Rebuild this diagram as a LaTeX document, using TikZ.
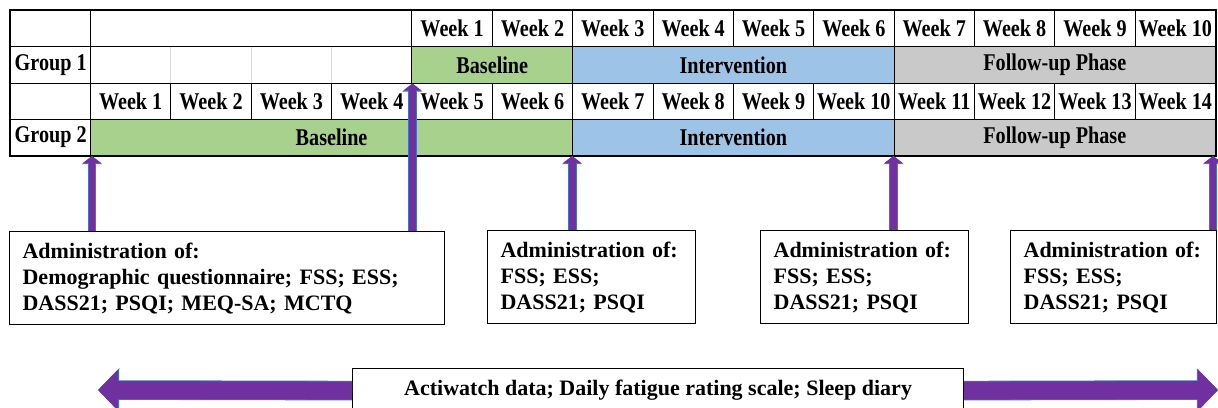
\documentclass[tikz,border=0pt]{standalone}
\usepackage{fontspec}
\setmainfont{Liberation Serif}
\newfontfamily\narrowfont[FakeStretch=0.84]{Liberation Serif}
\usepackage{xcolor}
\usepackage{tikz}
\usetikzlibrary{arrows.meta}

\definecolor{basegreen}{HTML}{A9D18E}
\definecolor{intblue}{HTML}{9DC3E6}
\definecolor{folgray}{HTML}{C9C9C9}
\definecolor{arrpurple}{HTML}{7030A0}
\definecolor{arrblue}{HTML}{4472C4}

\tikzset{
  cell/.style={draw, line width=0.5pt, inner sep=0pt, anchor=north west,
    minimum width=40.18pt, minimum height=18.125pt,
    font=\narrowfont\bfseries\fontsize{12}{14}\selectfont},
  admbox/.style={draw, line width=0.6pt, anchor=north west, align=left,
    inner xsep=6.5pt, inner ysep=0pt, minimum height=46.5pt,
    font=\bfseries\fontsize{11}{13}\selectfont},
  uparrow/.style={draw=arrpurple, line width=3.4pt, -{Triangle[length=3.4pt,width=8.6pt]},
    preaction={draw=arrblue, line width=4.4pt, -{Triangle[length=4pt,width=9.8pt]}}},
  bigarrow/.style={draw=arrpurple, line width=9pt, -{Triangle[length=10pt,width=20pt]},
    preaction={draw=arrblue, line width=9.8pt, -{Triangle[length=10.6pt,width=21.2pt]}}}
}

\begin{document}
\begin{tikzpicture}[x=0.5pt, y=-0.5pt]
\clip (0,0) rectangle (1218,407);

% empty cells of group 1 before the baseline
\node[cell, draw=gray!30] (e1) at (90,46.25) {};
\node[cell, draw=gray!30] (e2) at (170.36,46.25) {};
\node[cell, draw=gray!30] (e3) at (250.71,46.25) {};
\node[cell, draw=gray!30] (e4) at (331.07,46.25) {};

% row 1: weeks of group 1
\node[cell] (blank1) at (10,10) {};
\node[cell, minimum width=4*40.18pt] (blank2) at (90,10) {};
\node[cell] (ta1) at (411.43,10) {Week 1};
\node[cell] (ta2) at (491.79,10) {Week 2};
\node[cell] (ta3) at (572.14,10) {Week 3};
\node[cell] (ta4) at (652.5,10) {Week 4};
\node[cell] (ta5) at (732.86,10) {Week 5};
\node[cell] (ta6) at (813.21,10) {Week 6};
\node[cell] (ta7) at (893.57,10) {Week 7};
\node[cell] (ta8) at (973.93,10) {Week 8};
\node[cell] (ta9) at (1054.29,10) {Week 9};
\node[cell] (ta10) at (1134.64,10) {Week 10};

% row 2: phases of group 1
\node[cell] (g1) at (10,46.25) {Group 1};
\node[cell, fill=basegreen, minimum width=2*40.18pt] (g1base) at (411.43,46.25) {Baseline};
\node[cell, fill=intblue, minimum width=4*40.18pt] (g1int) at (572.14,46.25) {Intervention};
\node[cell, fill=folgray, minimum width=4*40.18pt] (g1fol) at (893.57,46.25) {Follow-up Phase};

% row 3: weeks of group 2
\node[cell] (blank3) at (10,82.5) {};
\node[cell] (tb1) at (90,82.5) {Week 1};
\node[cell] (tb2) at (170.36,82.5) {Week 2};
\node[cell] (tb3) at (250.71,82.5) {Week 3};
\node[cell] (tb4) at (331.07,82.5) {Week 4};
\node[cell] (tb5) at (411.43,82.5) {Week 5};
\node[cell] (tb6) at (491.79,82.5) {Week 6};
\node[cell] (tb7) at (572.14,82.5) {Week 7};
\node[cell] (tb8) at (652.5,82.5) {Week 8};
\node[cell] (tb9) at (732.86,82.5) {Week 9};
\node[cell] (tb10) at (813.21,82.5) {Week 10};
\node[cell] (tb11) at (893.57,82.5) {Week 11};
\node[cell] (tb12) at (973.93,82.5) {Week 12};
\node[cell] (tb13) at (1054.29,82.5) {Week 13};
\node[cell] (tb14) at (1134.64,82.5) {Week 14};

% row 4: phases of group 2
\node[cell] (g2) at (10,118.75) {Group 2};
\node[cell, fill=basegreen, minimum width=6*40.18pt] (g2base) at (90,118.75) {Baseline};
\node[cell, fill=intblue, minimum width=4*40.18pt] (g2int) at (572.14,118.75) {Intervention};
\node[cell, fill=folgray, minimum width=4*40.18pt] (g2fol) at (893.57,118.75) {Follow-up Phase};

\draw[line width=1pt] (blank1.north west) rectangle (g2fol.south east);

% questionnaires
\node[admbox, text width=204.5pt] (adm1) at (9,231)
  {Administration of:\\Demographic questionnaire; FSS; ESS;\\DASS21; PSQI; MEQ-SA; MCTQ};
\node[admbox, text width=91pt] (adm2) at (487,230)
  {Administration of:\\FSS; ESS;\\DASS21; PSQI};
\node[admbox, text width=91pt] (adm3) at (760,230)
  {Administration of:\\FSS; ESS;\\DASS21; PSQI};
\node[admbox, text width=90pt] (adm4) at (1010,230)
  {Administration of:\\FSS; ESS;\\DASS21; PSQI};

\coordinate (a1) at ([xshift=1pt]g2base.south west);
\coordinate (a2) at ([xshift=0.5pt]g1base.south west);
\coordinate (a3) at (g2int.south west);
\coordinate (a4) at (g2fol.south west);
\coordinate (a5) at ([xshift=-1.5pt]g2fol.south east);
\draw[uparrow] (adm1.north -| a1) -- (a1);
\draw[uparrow] (adm1.north -| a2) -- (a2);
\draw[uparrow] (adm2.north -| a3) -- (a3);
\draw[uparrow] (adm3.north -| a4) -- (a4);
\draw[uparrow] (adm4.north -| a5) -- (a5);

% continuous measures
\node[draw, line width=0.6pt, anchor=north west, minimum width=305.5pt, minimum height=22pt,
  font=\bfseries\fontsize{11}{13}\selectfont] (actw) at (352,368)
  {Actiwatch data; Daily fatigue rating scale; Sleep diary};
\coordinate (lend) at (98,390);
\coordinate (rend) at (1218,390);
\draw[bigarrow] (actw.west) -- (lend);
\draw[bigarrow] (actw.east) -- (rend);
\end{tikzpicture}
\end{document}
